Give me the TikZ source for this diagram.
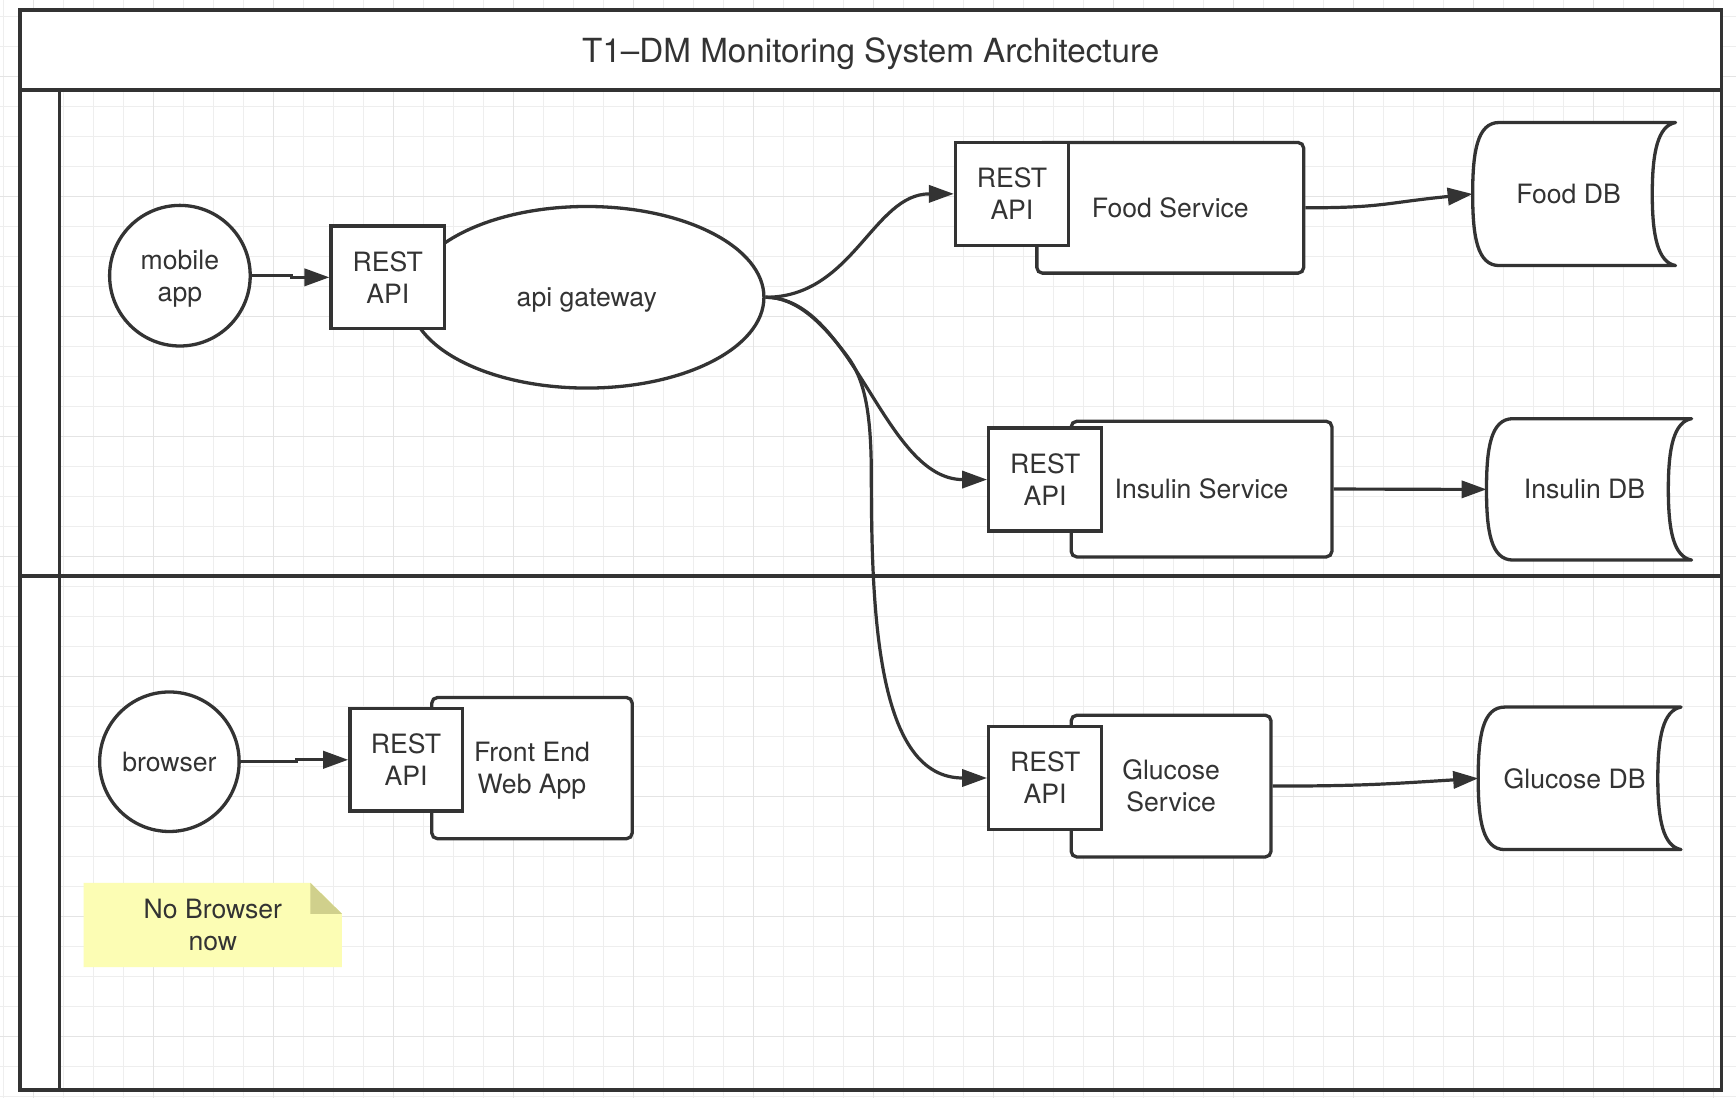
\documentclass[tikz,border=0pt]{standalone}
\usepackage{fontspec}
\setmainfont{TeX Gyre Heros}
\usetikzlibrary{shapes.geometric,arrows.meta,calc}
\pgfdeclarelayer{gridlayer}
\pgfdeclarelayer{bglayer}
\pgfsetlayers{gridlayer,bglayer,main}
\definecolor{ink}{HTML}{333333}
\definecolor{gridminor}{HTML}{EEEEEE}
\definecolor{gridmajor}{HTML}{E4E4E4}
\definecolor{notefill}{HTML}{FCFDB4}
\definecolor{notefold}{HTML}{D0D08C}
\def\U{0.5535pt}
\newcommand{\nd}[1]{\raisebox{0pt}[\height][0pt]{#1}}
\newcommand{\dbshape}[1]{%
\begin{pgfonlayer}{bglayer}
\draw[shapeline, fill=white, line join=round]
 ($(#1.north west)+(24,0)$) -- (#1.north east)
 .. controls ($(#1.north east)+(-16,3)$) and ($(#1.east)+(-21,-38)$) .. ($(#1.east)+(-21,0)$)
 .. controls ($(#1.east)+(-21,38)$) and ($(#1.south east)+(-16,-3)$) .. (#1.south east)
 -- ($(#1.south west)+(24,0)$)
 .. controls ($(#1.south west)+(4,0)$) and ($(#1.west)+(0,38)$) .. (#1.west)
 .. controls ($(#1.west)+(0,-38)$) and ($(#1.north west)+(4,0)$) .. cycle;
\end{pgfonlayer}}
\begin{document}
\begin{tikzpicture}[x=0.5535pt,y=-0.5535pt,
  every node/.style={font=\fontsize{13.3}{16}\selectfont, text=ink, align=center},
  shapeline/.style={draw=ink, line width=1.65pt},
  framebox/.style={shapeline, inner sep=0pt},
  restbox/.style={shapeline, fill=white, minimum width=102*\U, minimum height=93*\U, inner sep=0pt},
  svcbox/.style={shapeline, fill=white, rounded corners=2.8pt, inner sep=0pt},
  roundnode/.style={shapeline, fill=white, circle, minimum size=127*\U, inner sep=0pt},
  dbbox/.style={inner sep=0pt},
  link/.style={draw=ink, line width=1.6pt, -{Triangle[length=12.5pt,width=8.6pt]}},
]
\useasboundingbox (0,0) rectangle (1568,992);
% background grid
\begin{pgfonlayer}{gridlayer}
\fill[white] (0,0) rectangle (1568,992);
\foreach \k in {0,...,57} \draw[gridminor, line width=0.75pt] ({3+27.097*\k},0) -- ({3+27.097*\k},992);
\foreach \k in {0,...,36} \draw[gridminor, line width=0.75pt] (0,{15.08+27.097*\k}) -- (1568,{15.08+27.097*\k});
\foreach \k in {1,5,...,57} \draw[gridmajor, line width=0.75pt] ({3+27.097*\k},0) -- ({3+27.097*\k},992);
\foreach \k in {2,6,...,34} \draw[gridmajor, line width=0.75pt] (0,{15.08+27.097*\k}) -- (1568,{15.08+27.097*\k});
% pool frame
\node[framebox, fill=white, minimum width=1537*\U, minimum height=72.3*\U, font=\fontsize{16.6}{20}\selectfont] (title) at (786.5,45.15) {\nd{T1–DM Monitoring System Architecture}};
\node[framebox, minimum width=1537*\U, minimum height=439*\U] (lane1) at (786.5,300.8) {};
\node[framebox, minimum width=1537*\U, minimum height=464.2*\U] (lane2) at (786.5,752.4) {};
\node[framebox, fill=white, minimum width=36*\U, minimum height=439*\U] (bar1) at (36,300.8) {};
\node[framebox, fill=white, minimum width=36*\U, minimum height=464.2*\U] (bar2) at (36,752.4) {};
\end{pgfonlayer}

% lane 1
\node[roundnode] (mobile) at (162.5,249) {mobile\\\nd{app}};
\node[shapeline, fill=white, ellipse, minimum width=320*\U, minimum height=164*\U, inner sep=0pt] (gw) at (530,268.5) {\nd{api gateway}};
\node[restbox, minimum width=102.5*\U] (gwrest) at (350.25,250.5) {REST\\API};

\node[svcbox, minimum width=241*\U, minimum height=118*\U] (foodsvc) at (1057,187.7) {Food Service};
\node[restbox] (foodrest) at (914,175.1) {REST\\API};
\node[svcbox, minimum width=235.5*\U, minimum height=122.5*\U] (insvc) at (1085.25,441.75) {Insulin Service};
\node[restbox] (inrest) at (944,433.15) {REST\\API};

\node[dbbox, minimum width=182.5*\U, minimum height=128.5*\U] (fooddb) at (1421.75,175.25) {Food DB\hspace*{5.5pt}};
\dbshape{fooddb}
\node[dbbox, minimum width=184.5*\U, minimum height=127*\U] (indb) at (1435.25,442) {Insulin DB\hspace*{4.5pt}};
\dbshape{indb}

% lane 2
\node[roundnode, minimum size=126*\U] (browser) at (153,688) {browser};
\node[svcbox, minimum width=181*\U, minimum height=127.5*\U] (fesvc) at (480.5,693.75) {Front End\\\nd{Web App}};
\node[restbox, minimum width=101.5*\U, minimum height=92.5*\U] (ferest) at (366.75,686.25) {REST\\API};

\node[svcbox, minimum width=180.5*\U, minimum height=128*\U] (glusvc) at (1057.75,710) {Glucose\\Service};
\node[restbox] (glurest) at (944,702.7) {REST\\API};
\node[dbbox, minimum width=182.5*\U, minimum height=128*\U] (gludb) at (1426.75,703) {Glucose DB\hspace*{5pt}};
\dbshape{gludb}

\node[inner sep=0pt, minimum width=232.5*\U, minimum height=75.5*\U] (note) at (192.25,835.5) {No Browser\\now};
\begin{pgfonlayer}{bglayer}
\fill[notefill] (note.north west) -- ($(note.north east)+(-28.5,0)$) -- ($(note.north east)+(0,28)$) -- (note.south east) -- (note.south west) -- cycle;
\fill[notefold] ($(note.north east)+(-28.5,0)$) -- ($(note.north east)+(-28.5,28)$) -- ($(note.north east)+(0,28)$) -- cycle;
\end{pgfonlayer}

% connectors
\coordinate (gsplit) at (765.3,321.8);
\coordinate (gbend) at (787,430);
\draw[link] (mobile.east) -- ++(36,0) |- (gwrest.west);
\draw[link] (browser.east) -- ++(50,0) |- (ferest.west);
\draw[link] (gw.east) .. controls +(79,0) and +(-73,0) .. (foodrest.west);
\draw[link] (gw.east) .. controls +(79,0) and +(-93,0) .. (inrest.west);
\draw[link] (gw.east) .. controls (720,268.5) and (743.1,292.3) .. (gsplit)
  .. controls (780.3,341.8) and (787,370) .. (gbend)
  .. controls (787,560) and +(-98,0) .. (glurest.west);
\draw[link] (foodsvc.east) .. controls +(70,0) and +(-80,8) .. (fooddb.west);
\draw[link] (insvc.east) .. controls +(70,0) and +(-70,0) .. (indb.west);
\draw[link] (glusvc.east) .. controls +(80,0) and +(-80,5) .. (gludb.west);
\end{tikzpicture}
\end{document}
